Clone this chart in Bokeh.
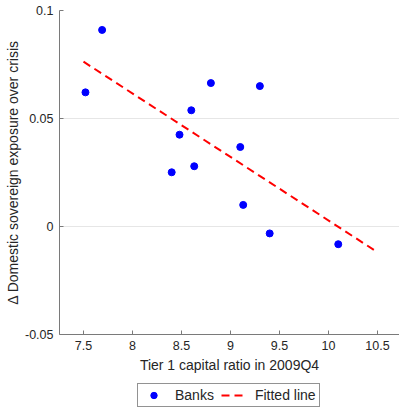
from bokeh.plotting import figure
from bokeh.layouts import column
from bokeh.models import Range1d, Legend, LegendItem, FixedTicker, ColumnDataSource
from bokeh.embed import file_html
from bokeh.resources import INLINE

# Data
tier1_ratio = [7.52, 7.69, 8.60, 8.48, 8.40, 8.63, 8.80, 9.30, 9.10, 9.13, 9.40, 10.10]
sov_exposure = [0.0621, 0.0910, 0.0538, 0.0425, 0.0251, 0.0279, 0.0664, 0.0650, 0.0368, 0.0100, -0.0032, -0.0082]
fit_x = [7.5, 10.5]
fit_y = [0.0763, -0.0119]
x_ticks = [7.5, 8, 8.5, 9, 9.5, 10, 10.5]
y_ticks = [-0.05, 0, 0.05, 0.1]
y_tick_labels = {-0.05: "-0.05", 0: "0", 0.05: "0.05", 0.1: "0.1"}
x_tick_labels = {7.5: "7.5", 8: "8", 8.5: "8.5", 9: "9", 9.5: "9.5", 10: "10", 10.5: "10.5"}
legend_labels = ["Banks", "Fitted line"]

FONT = "Liberation Sans"
TXT = "#262626"
AX = "#7a7a7a"
BLUE = "#0000ff"
RED = "#ff0000"

p = figure(width=399, height=380, output_backend="svg", toolbar_location=None,
           x_range=Range1d(7.255, 10.725), y_range=Range1d(-0.05, 0.1),
           min_border_left=59, min_border_right=0, min_border_top=10, min_border_bottom=46)
p.outline_line_color = None
p.background_fill_color = "white"

pts = ColumnDataSource(dict(x=tier1_ratio, y=sov_exposure))
fit = ColumnDataSource(dict(x=fit_x, y=fit_y))
p.scatter("x", "y", source=pts, size=7, color=BLUE)
p.line("x", "y", source=fit, line_color=RED, line_width=2, line_dash="8 5")

p.xaxis.ticker = FixedTicker(ticks=x_ticks)
p.yaxis.ticker = FixedTicker(ticks=y_ticks)
p.xaxis.major_label_overrides = x_tick_labels
p.yaxis.major_label_overrides = y_tick_labels
for ax in (p.xaxis, p.yaxis):
    ax.axis_line_color = AX
    ax.major_tick_line_color = AX
    ax.major_tick_in = 4
    ax.major_tick_out = 0
    ax.minor_tick_line_color = None
    ax.major_label_text_font = FONT
    ax.major_label_text_font_size = "12.5px"
    ax.major_label_text_color = TXT
    ax.axis_label_text_font = FONT
    ax.axis_label_text_font_size = "14px"
    ax.axis_label_text_font_style = "normal"
    ax.axis_label_text_color = TXT
p.xaxis.major_label_standoff = 6
p.yaxis.major_label_standoff = 6
p.xaxis.axis_label_standoff = 4
p.yaxis.axis_label_standoff = 1
p.xaxis.axis_label = "Tier 1 capital ratio in 2009Q4"
p.yaxis.axis_label = "\u0394 Domestic sovereign exposure over crisis"

p.xgrid.grid_line_color = None
p.ygrid.grid_line_color = "#e6e6e6"

# legend strip below the chart (same series, drawn out of view; only the legend shows)
lg = figure(width=399, height=27, output_backend="svg", toolbar_location=None,
            x_axis_type=None, y_axis_type=None,
            x_range=Range1d(0, 1), y_range=Range1d(0, 1),
            min_border_left=0, min_border_right=0, min_border_top=0, min_border_bottom=0)
lg.outline_line_color = None
lg.grid.grid_line_color = None
d_pts = lg.scatter("x", "y", source=pts, size=7, color=BLUE)
d_fit = lg.line("x", "y", source=fit, line_color=RED, line_width=2, line_dash="8 5")
legend = Legend(items=[LegendItem(label=legend_labels[0], renderers=[d_pts]),
                       LegendItem(label=legend_labels[1], renderers=[d_fit])],
                orientation="horizontal", location=(78, 0),
                label_text_font=FONT, label_text_font_size="14px", label_text_color=TXT,
                glyph_width=25, glyph_height=16, label_standoff=9, spacing=7,
                padding=3, margin=0,
                border_line_color="#262626", border_line_width=1,
                background_fill_color="white", background_fill_alpha=1)
lg.add_layout(legend, "center")

open("out.html", "w").write(file_html(column(p, lg, spacing=0), INLINE))
